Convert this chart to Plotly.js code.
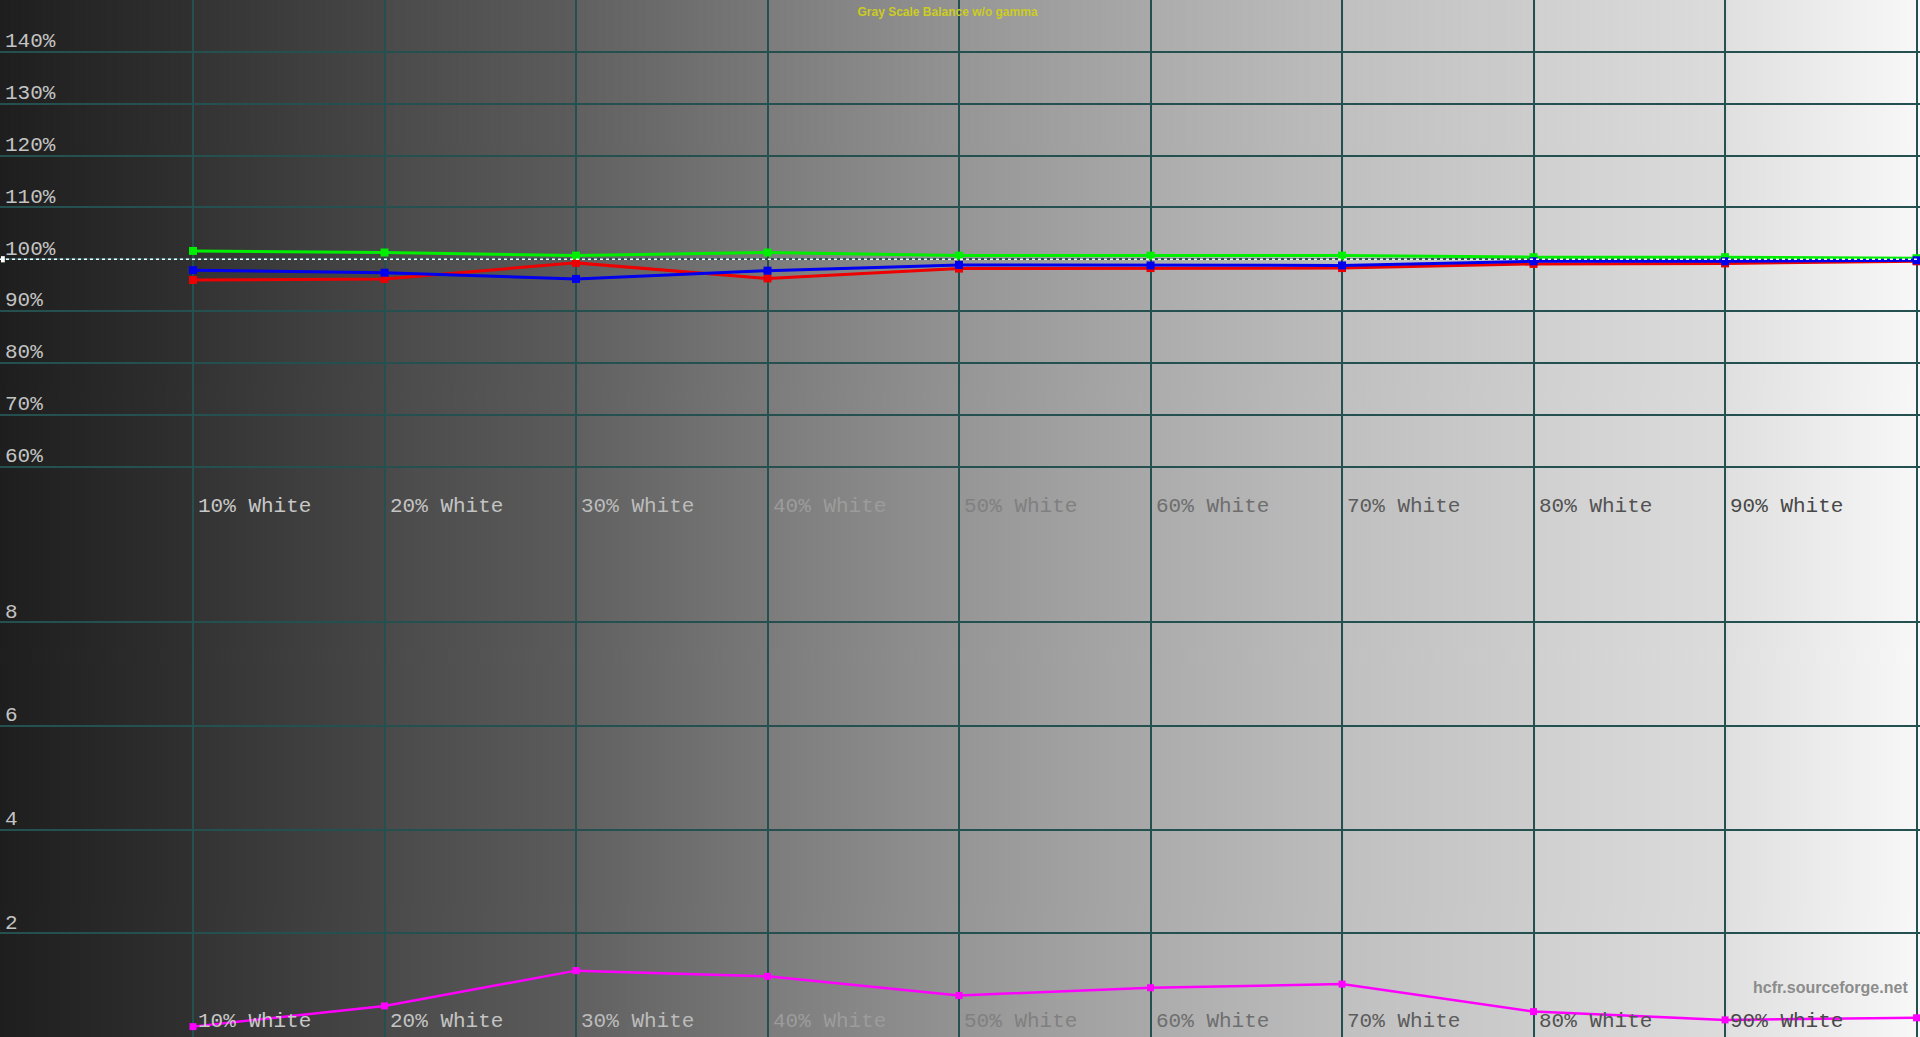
<!DOCTYPE html>
<html>
<head>
<meta charset="utf-8">
<script src="https://cdn.plot.ly/plotly-3.0.1.min.js"></script>
<style>
html,body{margin:0;padding:0;background:#000;overflow:hidden;}
#chart{width:1920px;height:1037px;}
</style>
</head>
<body>
<div id="chart"></div>
<script>
// ---- data ----
var levels = [10, 20, 30, 40, 50, 60, 70, 80, 90, 100];
var redPct = [96.0, 96.2, 99.3, 96.3, 98.2, 98.3, 98.3, 99.1, 99.2, 99.6];
var greenPct = [101.6, 101.3, 100.7, 101.3, 100.7, 100.7, 100.7, 100.4, 100.4, 100.2];
var bluePct = [97.9, 97.4, 96.2, 97.8, 98.9, 98.8, 98.8, 99.6, 99.6, 99.8];
var deltaE = [0.2, 0.6, 1.28, 1.17, 0.8, 0.95, 1.02, 0.49, 0.33, 0.37];
var labelLevels = [10, 20, 30, 40, 50, 60, 70, 80, 90];
var labelTexts = ['10% White', '20% White', '30% White', '40% White', '50% White', '60% White', '70% White', '80% White', '90% White'];
var pctTickVals = [60, 70, 80, 90, 100, 110, 120, 130, 140];
var pctTickText = ['60%', '70%', '80%', '90%', '100%', '110%', '120%', '130%', '140%'];
var deTickVals = [2, 4, 6, 8];
var deTickText = ['2', '4', '6', '8'];
var xGridVals = [0, 10, 20, 30, 40, 50, 60, 70, 80, 90, 100];
var chartTitle = 'Gray Scale Balance w/o gamma';
var watermark = 'hcfr.sourceforge.net';

// ---- style ----
var labelColors = ['#c8c8c8', '#c4c4c4', '#bcbcbc', '#9c9c9c', '#808080', '#6e6e6e', '#5c5c5c', '#525252', '#484848'];
var colStart = [30, 51, 74, 96, 124, 150, 172, 192, 208, 224];
var colEnd = [48, 71, 92, 121, 147, 169, 189, 205, 220, 248];

// background: gray ramp image
var cv = document.createElement('canvas');
cv.width = 1920; cv.height = 4;
var ctx = cv.getContext('2d');
var grad = ctx.createLinearGradient(0, 0, 1920, 0);
function g(v){ return 'rgb(' + v + ',' + v + ',' + v + ')'; }
for (var k = 0; k < 10; k++) {
  var a = k / 10, b = (k + 1) / 10 - 0.0001;
  grad.addColorStop(a, g(colStart[k]));
  grad.addColorStop(b, g(colEnd[k]));
}
ctx.fillStyle = grad;
ctx.fillRect(0, 0, 1920, 4);
var bgURL = cv.toDataURL('image/png');

var monoFont = 'Liberation Mono, Courier New, monospace';
var gridCol = '#245050';
var xr = [-0.078, 100.18];

var traces = [
  {x: levels, y: redPct, xaxis: 'x', yaxis: 'y', mode: 'lines+markers', name: 'Red',
   line: {color: '#ee0000', width: 3}, marker: {symbol: 'square', size: 8, color: '#ee0000'}},
  {x: levels, y: greenPct, xaxis: 'x', yaxis: 'y', mode: 'lines+markers', name: 'Green',
   line: {color: '#00ee00', width: 3}, marker: {symbol: 'square', size: 8, color: '#00ee00'}},
  {x: levels, y: bluePct, xaxis: 'x', yaxis: 'y', mode: 'lines+markers', name: 'Blue',
   line: {color: '#0000ee', width: 3}, marker: {symbol: 'square', size: 8, color: '#0000ee'}},
  {x: levels, y: deltaE, xaxis: 'x2', yaxis: 'y2', mode: 'lines+markers', name: 'dE',
   line: {color: '#ff00ff', width: 2.5}, marker: {symbol: 'square', size: 7, color: '#ff00ff'}}
];

var annotations = [];
for (var i = 0; i < labelLevels.length; i++) {
  annotations.push({x: labelLevels[i], xref: 'x', y: 0.512, yref: 'paper', text: labelTexts[i],
    showarrow: false, xanchor: 'left', yanchor: 'middle', xshift: 3,
    font: {family: monoFont, size: 21, color: labelColors[i]}});
  annotations.push({x: labelLevels[i], xref: 'x', y: 0.0145, yref: 'paper', text: labelTexts[i],
    showarrow: false, xanchor: 'left', yanchor: 'middle', xshift: 3,
    font: {family: monoFont, size: 21, color: labelColors[i]}});
}
annotations.push({x: 1910 / 1920, xref: 'paper', y: 1 - 987 / 1037, yref: 'paper', text: '<b>' + watermark + '</b>',
  showarrow: false, xanchor: 'right', yanchor: 'middle',
  font: {family: 'Liberation Sans, Arial, sans-serif', size: 16, color: '#8c8c8c'}});

var xaxisCommon = {range: xr, tickmode: 'array', tickvals: xGridVals, showticklabels: false,
  showgrid: true, gridcolor: gridCol, gridwidth: 2, zeroline: false, showline: false, ticks: '', fixedrange: true};

var layout = {
  width: 1920, height: 1037,
  margin: {l: 0, r: 0, t: 0, b: 0, pad: 0},
  paper_bgcolor: '#000000',
  plot_bgcolor: 'rgba(0,0,0,0)',
  showlegend: false,
  title: {text: chartTitle, x: 0.4935, xanchor: 'center', y: 1 - 12 / 1037, yanchor: 'middle', yref: 'container',
    font: {family: 'Liberation Sans, Arial, sans-serif', size: 12, weight: 600, color: '#cccc22'}},
  xaxis: Object.assign({}, xaxisCommon, {anchor: 'y'}),
  xaxis2: Object.assign({}, xaxisCommon, {anchor: 'y2'}),
  yaxis: {domain: [0.5, 1], range: [50, 150], tickmode: 'array', tickvals: pctTickVals, ticktext: pctTickText,
    ticklabelposition: 'inside', ticklabelshift: -12, ticklabelstandoff: 2, ticks: '',
    showgrid: true, gridcolor: gridCol, gridwidth: 2, zeroline: false, showline: false, fixedrange: true,
    tickfont: {family: monoFont, size: 21, color: '#c4c4c4'}},
  yaxis2: {domain: [0, 0.5], range: [0, 10], tickmode: 'array', tickvals: deTickVals, ticktext: deTickText,
    ticklabelposition: 'inside', ticklabelshift: -12, ticklabelstandoff: 2, ticks: '',
    showgrid: true, gridcolor: gridCol, gridwidth: 2, zeroline: false, showline: false, fixedrange: true,
    tickfont: {family: monoFont, size: 21, color: '#c4c4c4'}},
  images: [{source: bgURL, xref: 'paper', yref: 'paper', x: 0, y: 1, sizex: 1, sizey: 1,
    xanchor: 'left', yanchor: 'top', sizing: 'stretch', layer: 'below'}],
  shapes: [
    {type: 'line', xref: 'paper', yref: 'y', x0: 0, x1: 1, y0: 100, y1: 100,
     line: {color: '#ffffff', width: 1.5, dash: '3px,3px'}},
    {type: 'rect', xref: 'paper', yref: 'y', x0: 0.0005, x1: 0.0025, y0: 99.4, y1: 100.6,
     fillcolor: '#ffffff', line: {width: 0}}
  ],
  annotations: annotations
};

Plotly.newPlot('chart', traces, layout, {displayModeBar: false, staticPlot: true});
</script>
</body>
</html>
